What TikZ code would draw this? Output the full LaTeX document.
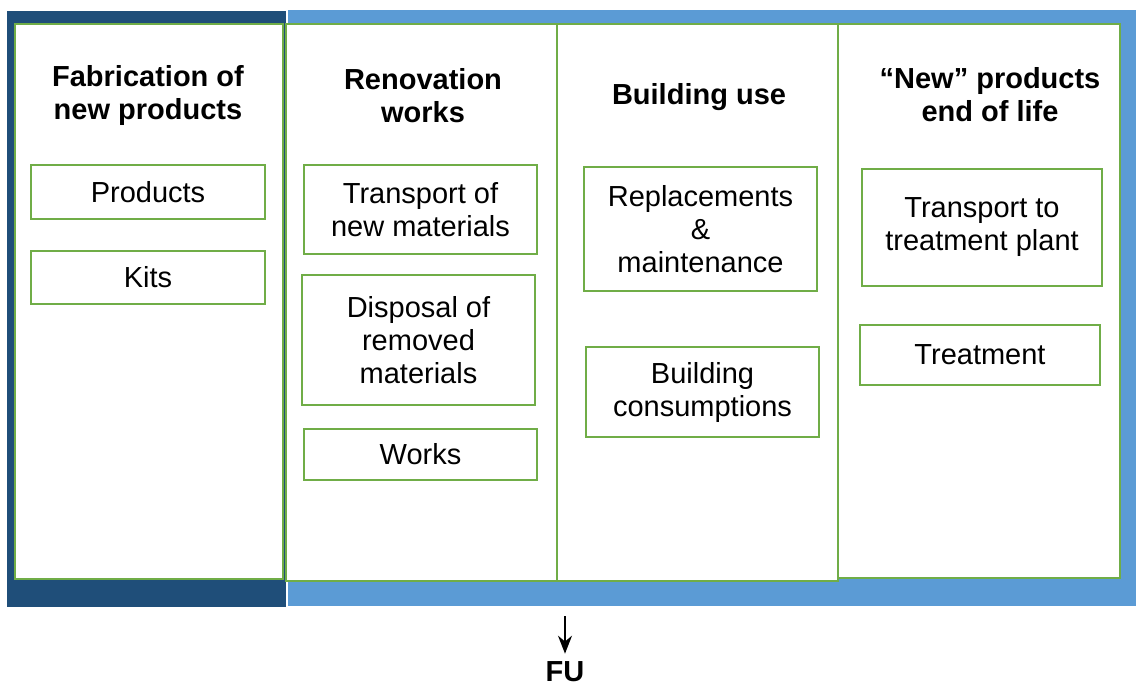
\documentclass[tikz,border=0pt]{standalone}
\usepackage{fontspec}
\setmainfont{Liberation Sans}
\usetikzlibrary{positioning, arrows.meta}
\definecolor{leafgreen}{RGB}{112,173,71}
\definecolor{navyblue}{RGB}{31,78,121}
\definecolor{skyblue}{RGB}{91,155,213}

\begin{document}
\begin{tikzpicture}
	[x=1pt, y=-1pt, font=\fontsize{29}{33}\selectfont]
	
	\tikzstyle{panel} = [rectangle, draw=leafgreen, line width=2.5pt, fill=white, inner sep=0pt]
	
	\tikzstyle{stage} = [rectangle, draw=leafgreen, line width=2.5pt, fill=white, align=center, inner sep=2pt]
	
	\tikzstyle{title} = [align=center, inner sep=2pt, font=\fontsize{29}{33}\selectfont\bfseries]
	
	\tikzstyle{arrow} = [line width=2pt,-{Stealth[length=18pt,width=14pt]}]
	
	\useasboundingbox (0,0) rectangle (1136,686);
	
	% coloured backgrounds
	\fill[navyblue] (7,11) rectangle (286,607);
	\fill[skyblue] (288,10) rectangle (1136,606);
	
	% the four columns
	\node (fab) [panel, minimum width=268, minimum height=555] at (149,301.5) {};
	\node (reno) [panel, minimum width=271, minimum height=557] at (421.5,302.5) {};
	\node (use) [panel, minimum width=281, minimum height=557] at (697.5,302.5) {};
	\node (eol) [panel, minimum width=282, minimum height=554] at (979,301) {};
	
	\node (fabtitle) [title] at (148,95) {Fabrication of\\new products};
	\node (renotitle) [title] at (423,96) {Renovation\\works};
	\node (usetitle) [title] at (699,97) {Building use};
	\node (eoltitle) [title] at (990,95) {“New” products\\end of life};
	
	% fabrication
	\node (prod) [stage, minimum width=234, minimum height=54] at (148,192) {Products};
	\node (kits) [stage, minimum width=234, minimum height=53] at (148,277.5) {Kits};
	
	% renovation
	\node (trnew) [stage, minimum width=233, minimum height=89] at (420.5,209.5) {Transport of\\new materials};
	\node (disp) [stage, minimum width=233, minimum height=130] at (418.5,340) {Disposal of\\removed\\materials};
	\node (works) [stage, minimum width=233, minimum height=51] at (420.5,454.5) {Works};
	
	% use
	\node (repl) [stage, minimum width=233, minimum height=124] at (700.5,229) {Replacements\\\&\\maintenance};
	\node (cons) [stage, minimum width=233, minimum height=90] at (702.5,392) {Building\\consumptions};
	
	% end of life
	\node (trtreat) [stage, minimum width=240, minimum height=117] at (982,227.5) {Transport to\\treatment plant};
	\node (treat) [stage, minimum width=240, minimum height=60] at (980,355) {Treatment};
	
	% functional unit
	\coordinate (futop) at (565,616);
	\node (fu) [title] at (565,672) {FU};
	\draw [arrow, shorten >=6pt] (futop) -- (fu);
	
\end{tikzpicture}
\end{document}
